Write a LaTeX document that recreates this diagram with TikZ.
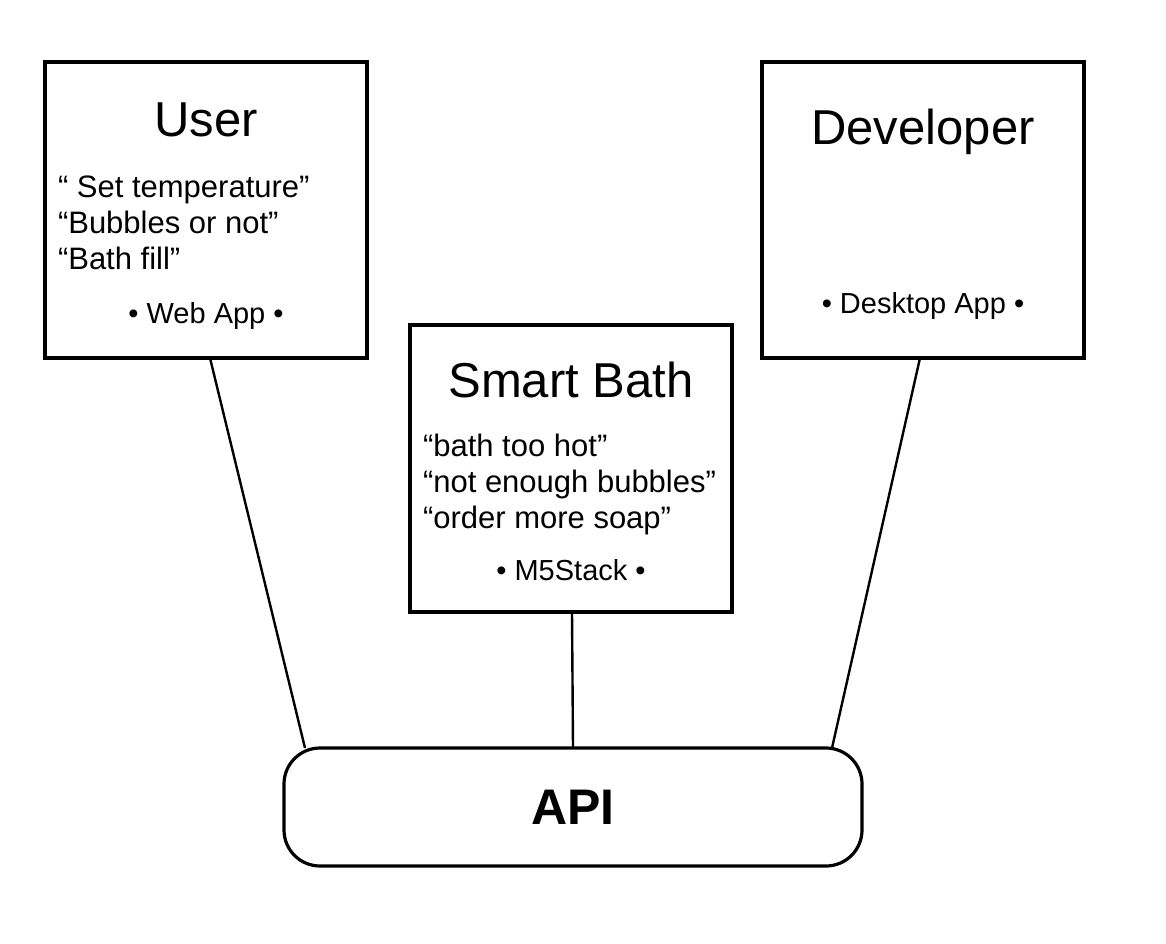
\documentclass[tikz,border=0pt]{standalone}
\usepackage{fontspec}
\setmainfont{Liberation Sans}

\begin{document}
\begin{tikzpicture}[
    x=1pt, y=-1pt,
    every node/.style={inner sep=0pt, outer sep=0pt},
    panel/.style={draw, line width=3.2pt, minimum width=322pt},
    title/.style={font=\fontsize{49}{58}\selectfont, anchor=base},
    said/.style={font=\fontsize{31}{36}\selectfont, align=left, anchor=base west},
    app/.style={font=\fontsize{29}{34}\selectfont, anchor=base},
    link/.style={line width=2.4pt}
]
\useasboundingbox (0,0) rectangle (1166,944);

% boxes
\node[panel, minimum height=296pt] (user) at (206,210) {};
\node[panel, minimum height=287pt] (bath) at (571,468.5) {};
\node[panel, minimum height=296pt] (dev) at (923,210) {};
\node[draw, line width=3.2pt, rounded corners=36pt, minimum width=578pt, minimum height=118pt,
      font=\bfseries\fontsize{50}{60}\selectfont] (api) at (573,807) {API};

% texts
\node[title] (userT) at (206,137) {User};
\node[said] (userS) at (58,269) {“ Set temperature”\\“Bubbles or not”\\“Bath fill”};
\node[app] (userA) at (206,323) {• Web App •};

\node[title] (bathT) at (571,397) {Smart Bath};
\node[said] (bathS) at (423,528) {“bath too hot”\\“not enough bubbles”\\“order more soap”};
\node[app] (bathA) at (571,580) {• M5Stack •};

\node[title] (devT) at (923,145) {Developer};
\node[app] (devA) at (923,313) {• Desktop App •};

% links
\draw[link] ([xshift=4pt]user.south) -- ([xshift=21pt]api.north west);
\draw[link] ([xshift=1pt]bath.south) -- (api.north);
\draw[link] ([xshift=-3pt]dev.south) -- ([xshift=-30pt]api.north east);
\end{tikzpicture}
\end{document}
